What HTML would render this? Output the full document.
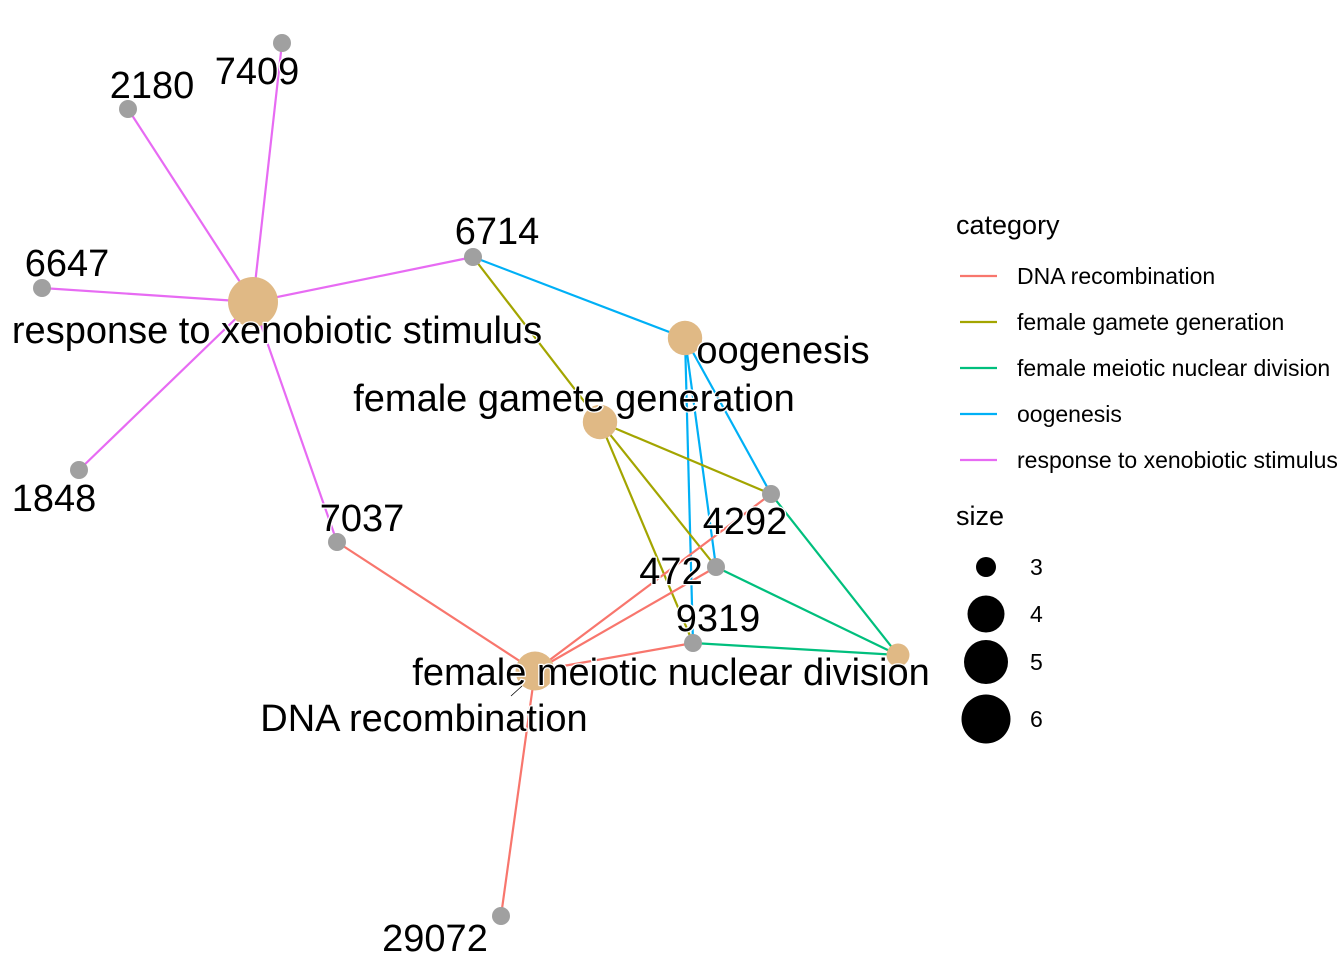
<!DOCTYPE html>
<html><head><meta charset="utf-8"><style>
html,body{margin:0;padding:0;background:#fff}
svg{display:block;font-family:"Liberation Sans",Arial,sans-serif}
#labels text{paint-order:stroke;stroke:#fff;stroke-width:2.5px;stroke-linejoin:round}
</style></head><body>
<svg id="chart" width="1344" height="960" viewBox="0 0 1344 960">
<g id="edges"></g>
<g id="nodes"></g>
<line x1="511" y1="696" x2="522" y2="686" stroke="#000" stroke-width="0.8"/>
<g id="labels"></g>
<g id="legend"></g>
</svg>
<script>
const NS="http://www.w3.org/2000/svg";
const categories=["DNA recombination","female gamete generation","female meiotic nuclear division","oogenesis","response to xenobiotic stimulus"];
const catColors=["#F8766D","#A3A500","#00BF7D","#00B0F6","#E76BF3"];
const catNodeX=[535,600,898,685,253];
const catNodeY=[671,422,655,338,302];
const catSize=[4.5,4,3,4,6];
const catLabelX=[424,574,671,783,277];
const catLabelY=[731,411,685,363,343];
const genes=["7409","2180","6647","1848","7037","6714","4292","472","9319","29072"];
const geneX=[282,128,42,79,337,473,771,716,693,501];
const geneY=[43,109,288,470,542,257,494,567,643,916];
const geneLabelX=[257,152,67,54,362,497,745,671,718,435];
const geneLabelY=[84,98,276,511,531,244,534,584,631,951];
const edgeCat=[4,4,4,4,4,4,3,3,3,3,1,1,1,1,2,2,2,0,0,0,0,0];
const edgeGene=["7409","2180","6647","1848","7037","6714","6714","4292","472","9319","6714","4292","472","9319","4292","472","9319","7037","4292","472","9319","29072"];
const sizeLegend=[3,4,5,6];
function rad(s){return 25*Math.sqrt((s-2.2)/3.8);}
function el(t,a,p){const e=document.createElementNS(NS,t);for(const k in a)e.setAttribute(k,a[k]);p.appendChild(e);return e;}
const gE=document.getElementById('edges'),gN=document.getElementById('nodes'),gL=document.getElementById('labels'),gG=document.getElementById('legend');
edgeCat.forEach((c,i)=>{const gi=genes.indexOf(edgeGene[i]);
 const l=el('line',{x1:catNodeX[c],y1:catNodeY[c],x2:geneX[gi],y2:geneY[gi],stroke:catColors[c],'stroke-width':2.2},gE);
 
 });
categories.forEach((c,i)=>{const n=el('circle',{cx:catNodeX[i],cy:catNodeY[i],r:rad(catSize[i]),fill:'#E0B985'},gN);
 
 });
genes.forEach((g,i)=>{const n=el('circle',{cx:geneX[i],cy:geneY[i],r:9,fill:'#A0A0A0'},gN);
 
 });
categories.forEach((c,i)=>{const t=el('text',{x:catLabelX[i],y:catLabelY[i],'font-size':38,'text-anchor':'middle',fill:'#000'},gL);t.textContent=c;
 
 });
genes.forEach((g,i)=>{const t=el('text',{x:geneLabelX[i],y:geneLabelY[i],'font-size':38,'text-anchor':'middle',fill:'#000'},gL);t.textContent=g;
 
 });
let t=el('text',{x:956,y:234,'font-size':27},gG);t.textContent='category';


categories.forEach((c,i)=>{const y=276+i*46;
 const l=el('line',{x1:960,x2:997,y1:y,y2:y,stroke:catColors[i],'stroke-width':2.2},gG);
 
 
 const tx=el('text',{x:1017,y:y+8,'font-size':23},gG);tx.textContent=c;
 
 });
t=el('text',{x:956,y:525,'font-size':27},gG);t.textContent='size';


const sizeY=[567,614,662,719];
sizeLegend.forEach((s,i)=>{const c=el('circle',{cx:986,cy:sizeY[i],r:[10,18.5,22,24.5][i],fill:'#000'},gG);
 
 
 const tx=el('text',{x:1030,y:sizeY[i]+8,'font-size':23},gG);tx.textContent=s;
 
 });
</script>
</body></html>
